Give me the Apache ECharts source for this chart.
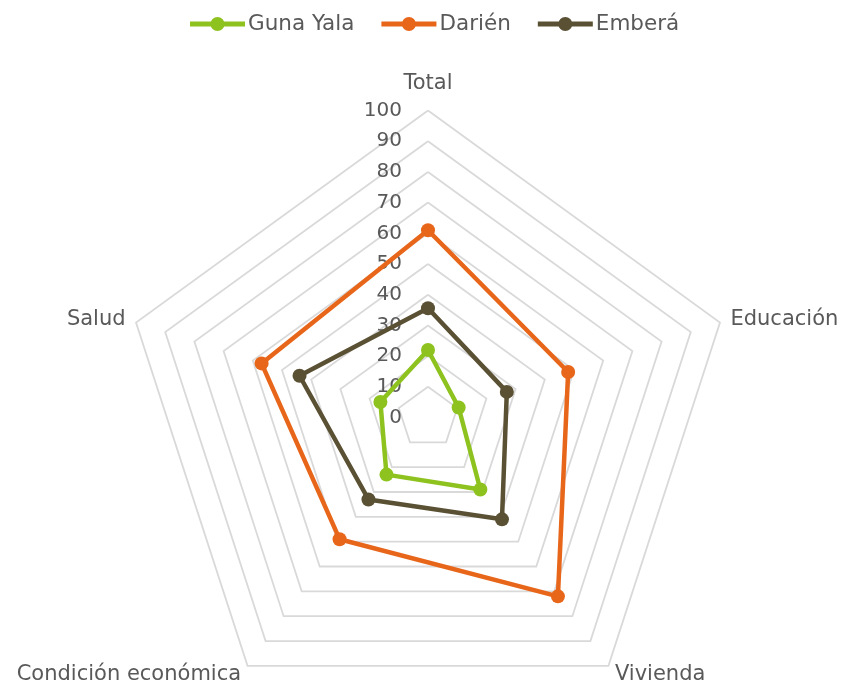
<!DOCTYPE html>
<html><head><meta charset="utf-8">
<script src="https://cdn.jsdelivr.net/npm/echarts@6/dist/echarts.min.js"></script>
<style>html,body{margin:0;padding:0;background:#fff}#c{width:842px;height:686px}</style>
</head><body><div id="c"></div>
<script>
// Categories in clockwise order starting at top
const categories = ['Total', 'Educación', 'Vivienda', 'Condición económica', 'Salud'];
const gunaYala = [22, 10.5, 29, 23, 16.3];
const darien = [61, 48, 72, 49, 57];
const embera = [35.6, 27, 41, 33, 44];
const seriesNames = ['Guna Yala', 'Darién', 'Emberá'];
const seriesColors = ['#8DC21F', '#E8661A', '#5A5033'];
const axisMin = 0, axisMax = 100, axisSplits = 10;

// ECharts radar lays indicators counter-clockwise; reorder to get clockwise
const order = [0, 4, 3, 2, 1];
const reorder = arr => order.map(i => arr[i]);
const font = 'DejaVu Sans';
const textColor = '#595959';

const indicator = order.map((i, k) => ({
  name: categories[i], min: axisMin, max: axisMax,
  axisLabel: k === 0 ? {show: true} : {show: false}
}));

// legend icon: line with a circle marker in the middle (55 x 14 box)
const legendIcon = 'path://M0,4.5L21.5,4.5L21.5,9.5L0,9.5Z M33.5,4.5L55,4.5L55,9.5L33.5,9.5Z M20.5,7A7,7 0 1,1 34.5,7A7,7 0 1,1 20.5,7Z';

const chart = echarts.init(document.getElementById('c'));
chart.setOption({
  animation: false,
  textStyle: {fontFamily: font},
  legend: {
    top: 8, left: 185,
    itemWidth: 55, itemHeight: 14, itemGap: 27,
    textStyle: {fontFamily: font, fontSize: 21.5, color: textColor, padding: [0, 0, 0, -2]},
    data: seriesNames.map(n => ({name: n, icon: legendIcon}))
  },
  radar: {
    center: [428, 417.5],
    radius: 307,
    startAngle: 90,
    splitNumber: axisSplits,
    shape: 'polygon',
    indicator: indicator,
    axisName: {
      color: textColor, fontSize: 21, fontFamily: font,
      formatter: name => name === categories[0] ? '{t|' + name + '}' : name,
      rich: {t: {color: textColor, fontSize: 21, fontFamily: font, padding: [0, 0, 5, 0]}}
    },
    nameGap: 11,
    axisLine: {show: false},
    axisTick: {show: false},
    splitArea: {show: false},
    splitLine: {lineStyle: {color: '#d9d9d9', width: 1.8}},
    axisLabel: {show: false, color: textColor, fontSize: 20, fontFamily: font, margin: 26}
  },
  series: [{
    type: 'radar',
    symbol: 'circle',
    symbolSize: 14,
    data: [gunaYala, darien, embera].map((d, j) => ({
      name: seriesNames[j],
      value: reorder(d),
      lineStyle: {color: seriesColors[j], width: 4.5},
      itemStyle: {color: seriesColors[j]}
    }))
  }]
});
</script></body></html>
